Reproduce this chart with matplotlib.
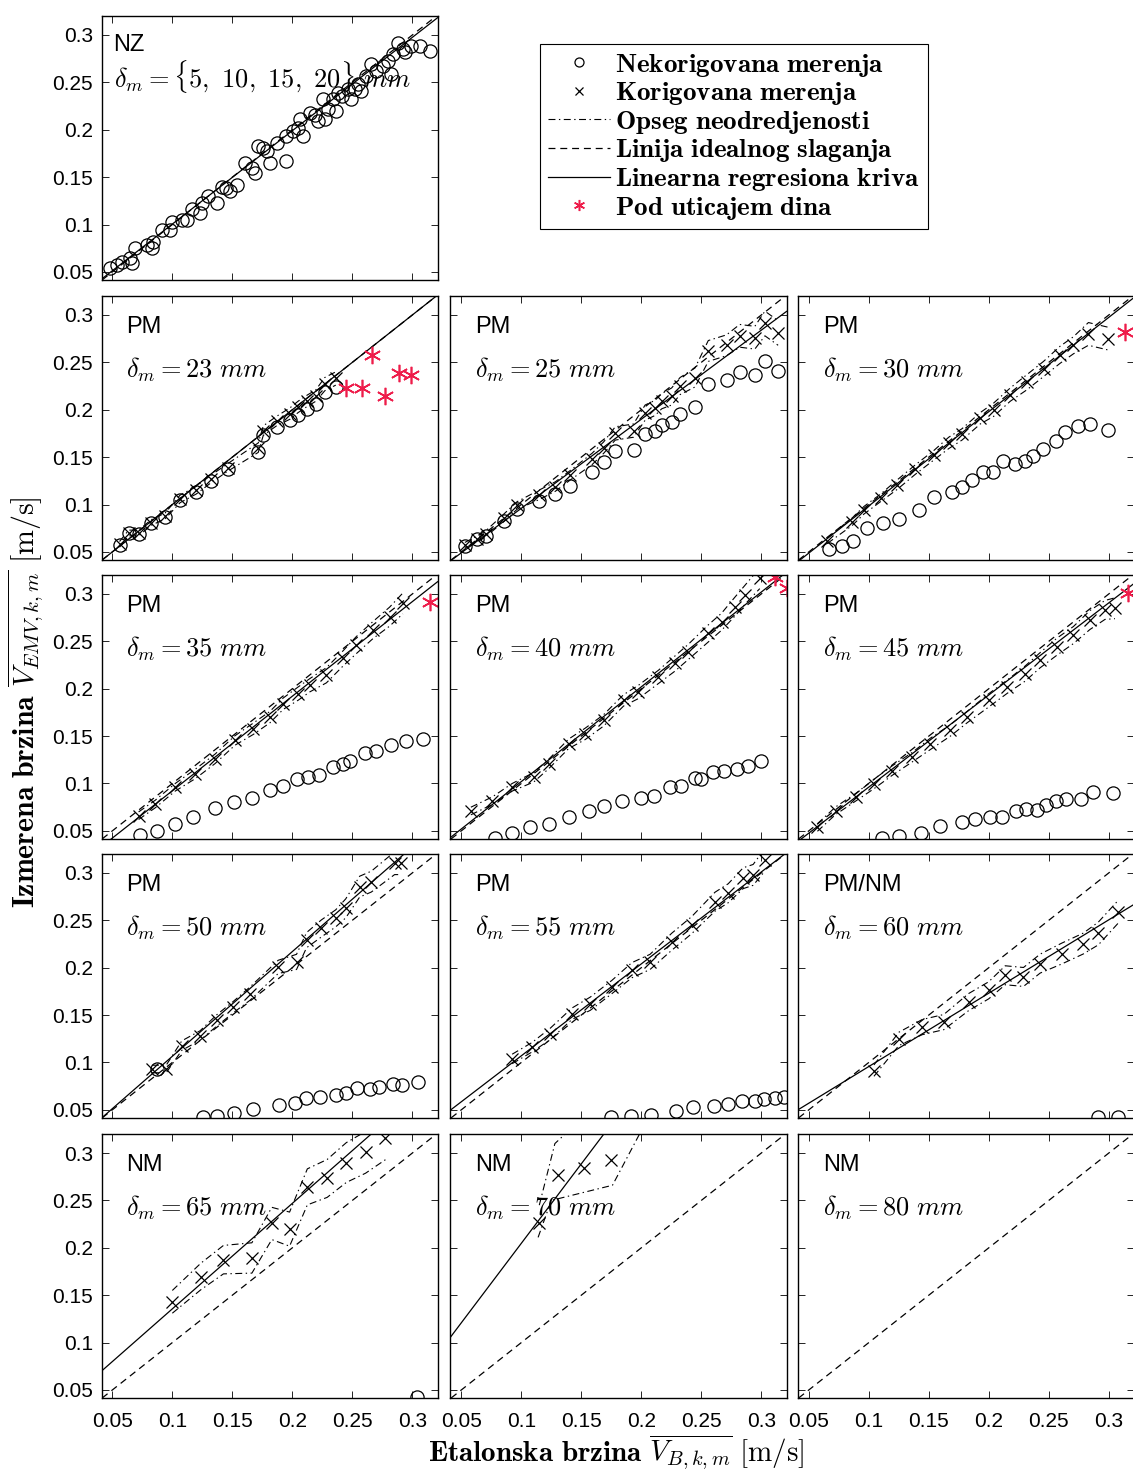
import numpy as np
import matplotlib
matplotlib.use("Agg")
import matplotlib.pyplot as plt
from matplotlib.lines import Line2D
from matplotlib.ticker import FuncFormatter

plt.rcParams["font.family"] = ["Liberation Sans", "DejaVu Sans"]
plt.rcParams["mathtext.fontset"] = "cm"
plt.rcParams["lines.scale_dashes"] = False

XLIM = (0.041, 0.321)
YLIM = (0.0415, 0.320)
TICKS = [0.05, 0.1, 0.15, 0.2, 0.25, 0.3]
DINA = "#ee1c4a"
DASH = (5, 3.5)
DASHDOT = (5, 2.5, 1, 2.5)

# NZ, delta = 5..20 mm (only uncorrected points)
nz_x = [0.048, 0.054, 0.058, 0.065, 0.066, 0.069, 0.079, 0.083, 0.084, 0.091, 0.0996, 0.098,
        0.108, 0.112, 0.116, 0.1245, 0.123, 0.130, 0.137, 0.141, 0.145, 0.148, 0.1536, 0.1605,
        0.166, 0.169, 0.1716, 0.1758, 0.181, 0.1785, 0.187, 0.195, 0.195, 0.2007, 0.205, 0.209,
        0.206, 0.2145, 0.2187, 0.2215, 0.227, 0.2298, 0.2256, 0.234, 0.2367, 0.238, 0.241,
        0.2464, 0.249, 0.252, 0.2547, 0.2575, 0.2616, 0.2658, 0.270, 0.2755, 0.2796, 0.2824,
        0.2838, 0.288, 0.292, 0.2935, 0.299, 0.306, 0.3143]
nz_y = [0.054, 0.0575, 0.061, 0.0645, 0.0593, 0.075, 0.0787, 0.075, 0.082, 0.0946, 0.103, 0.0946,
        0.105, 0.105, 0.116, 0.1228, 0.112, 0.130, 0.123, 0.140, 0.139, 0.135, 0.142, 0.165,
        0.160, 0.1546, 0.1828, 0.181, 0.165, 0.1775, 0.186, 0.193, 0.167, 0.1987, 0.202, 0.193,
        0.211, 0.218, 0.216, 0.209, 0.211, 0.2216, 0.232, 0.232, 0.2199, 0.239, 0.2358,
        0.2428, 0.232, 0.243, 0.248, 0.241, 0.257, 0.269, 0.262, 0.2675, 0.273, 0.259,
        0.280, 0.292, 0.285, 0.2816, 0.2887, 0.2887, 0.2834]

# PM, 23 mm
p23_xo = [0.056, 0.0636, 0.0719, 0.0824, 0.094, 0.1065, 0.1198, 0.1323, 0.146, 0.1716, 0.1758,
          0.1868, 0.198, 0.2048, 0.2118, 0.2196, 0.227, 0.2362]
p23_yo = [0.0575, 0.0695, 0.0688, 0.0804, 0.0864, 0.105, 0.1136, 0.125, 0.137, 0.155, 0.173,
          0.182, 0.189, 0.194, 0.201, 0.2065, 0.219, 0.224]
p23_yc = [0.058, 0.070, 0.070, 0.081, 0.088, 0.106, 0.115, 0.127, 0.139, 0.160, 0.178, 0.188,
          0.196, 0.203, 0.209, 0.215, 0.227, 0.233]
p23_u = [0.003, 0.003, 0.003, 0.003, 0.003, 0.004, 0.004, 0.004, 0.004, 0.005, 0.005, 0.005,
         0.006, 0.006, 0.006, 0.006, 0.007, 0.007]
p23_xd = [0.245, 0.258, 0.2665, 0.2776, 0.2887, 0.299]
p23_yd = [0.2234, 0.2234, 0.2576, 0.2142, 0.239, 0.2365]

# PM, 25 mm
p25_xo = [0.053, 0.0633, 0.0702, 0.0855, 0.0965, 0.1145, 0.1284, 0.1409, 0.1589, 0.1686, 0.1783,
          0.1935, 0.2032, 0.2115, 0.217, 0.2253, 0.2323, 0.2447, 0.2558, 0.271, 0.282, 0.2946,
          0.303, 0.314]
p25_yo = [0.0564, 0.0635, 0.067, 0.083, 0.095, 0.104, 0.111, 0.120, 0.134, 0.1447, 0.157,
          0.1578, 0.1747, 0.178, 0.1835, 0.187, 0.196, 0.203, 0.2276, 0.2319, 0.240, 0.2365,
          0.2516, 0.241]
p25_yc = [0.057, 0.064, 0.069, 0.086, 0.099, 0.110, 0.119, 0.131, 0.148, 0.160, 0.175, 0.178,
          0.197, 0.202, 0.209, 0.214, 0.225, 0.234, 0.262, 0.268, 0.278, 0.276, 0.291, 0.281]
p25_u = [0.003, 0.003, 0.003, 0.004, 0.004, 0.005, 0.005, 0.005, 0.006, 0.006, 0.007, 0.007,
         0.008, 0.008, 0.008, 0.009, 0.009, 0.010, 0.011, 0.011, 0.012, 0.012, 0.013, 0.013]

# PM, 30 mm
p30_xo = [0.0669, 0.078, 0.0871, 0.0982, 0.112, 0.1251, 0.1417, 0.1542, 0.1694, 0.1777, 0.186,
          0.1951, 0.2035, 0.2118, 0.2215, 0.2298, 0.2367, 0.245, 0.2561, 0.2636, 0.2747,
          0.2843, 0.2996]
p30_yo = [0.0529, 0.0564, 0.0617, 0.0751, 0.080, 0.0847, 0.0942, 0.1076, 0.1129, 0.1182, 0.126,
          0.134, 0.134, 0.1464, 0.1429, 0.1457, 0.1507, 0.1588, 0.1669, 0.1765, 0.1824,
          0.1846, 0.1789]
p30_xc = [0.0655, 0.0863, 0.096, 0.1098, 0.1237, 0.1389, 0.1542, 0.1666, 0.1777, 0.1929, 0.204,
          0.2179, 0.2317, 0.2456, 0.2594, 0.2705, 0.283, 0.2996]
p30_yc = [0.062, 0.082, 0.094, 0.107, 0.121, 0.137, 0.152, 0.165, 0.174, 0.191, 0.200, 0.216,
          0.229, 0.243, 0.258, 0.268, 0.280, 0.275]
p30_u = [0.003, 0.004, 0.004, 0.004, 0.005, 0.005, 0.005, 0.006, 0.006, 0.006, 0.007, 0.007,
         0.008, 0.008, 0.009, 0.009, 0.012, 0.012]
p30_xd = [0.3134]
p30_yd = [0.2823]

# PM, 35 mm
p35_xo = [0.0727, 0.0871, 0.1024, 0.1176, 0.1356, 0.1514, 0.1666, 0.1813, 0.1924, 0.2035,
          0.2132, 0.2223, 0.2339, 0.2422, 0.2478, 0.2602, 0.270, 0.2824, 0.2949, 0.3087]
p35_yo = [0.0455, 0.050, 0.0571, 0.0642, 0.0741, 0.0801, 0.0847, 0.0931, 0.0977, 0.1048,
          0.1066, 0.1094, 0.1171, 0.1207, 0.1242, 0.132, 0.1348, 0.1401, 0.1447, 0.1471]
p35_xc = [0.0719, 0.0857, 0.1024, 0.119, 0.1356, 0.1522, 0.1674, 0.1813, 0.1924, 0.2048, 0.2145,
          0.2284, 0.2422, 0.2533, 0.2672, 0.281, 0.2921]
p35_yc = [0.066, 0.0783, 0.096, 0.110, 0.126, 0.1454, 0.1577, 0.170, 0.1842, 0.1948, 0.2036,
          0.2142, 0.2319, 0.246, 0.2619, 0.276, 0.290]
p35_u = [0.004, 0.004, 0.004, 0.005, 0.005, 0.005, 0.006, 0.006, 0.006, 0.007, 0.007, 0.008,
         0.008, 0.009, 0.009, 0.010, 0.011]
p35_xd = [0.3143]
p35_yd = [0.292]

# PM, 40 mm
p40_xo = [0.078, 0.0924, 0.1076, 0.1229, 0.1395, 0.1561, 0.1686, 0.1838, 0.1999, 0.2109, 0.224,
          0.2331, 0.2447, 0.2497, 0.260, 0.2691, 0.2794, 0.2885, 0.2996]
p40_yo = [0.043, 0.0483, 0.0536, 0.0571, 0.0642, 0.0713, 0.0765, 0.0818, 0.0843, 0.0871, 0.0967,
          0.0977, 0.1059, 0.1048, 0.1119, 0.1136, 0.1154, 0.1189, 0.1235]
p40_xc = [0.058, 0.0758, 0.0924, 0.1104, 0.1229, 0.1395, 0.1533, 0.1686, 0.1852, 0.1976, 0.2143,
          0.2281, 0.2392, 0.2558, 0.2669, 0.278, 0.2863, 0.2987]
p40_yc = [0.071, 0.0818, 0.096, 0.1066, 0.1207, 0.1419, 0.1524, 0.1666, 0.1877, 0.1966, 0.2125,
          0.2266, 0.2389, 0.2583, 0.2707, 0.2866, 0.299, 0.3166]
p40_u = [0.004, 0.004, 0.004, 0.005, 0.005, 0.005, 0.006, 0.006, 0.006, 0.007, 0.007, 0.008,
         0.008, 0.009, 0.009, 0.010, 0.010, 0.011]
p40_xd = [0.311, 0.321]
p40_yd = [0.318, 0.306]

# PM, 45 mm
p45_xo = [0.1112, 0.1251, 0.1431, 0.1591, 0.1777, 0.1888, 0.2012, 0.2109, 0.2228, 0.2312, 0.240,
          0.2478, 0.2561, 0.2644, 0.2769, 0.2871, 0.3037]
p45_yo = [0.043, 0.0448, 0.0483, 0.0554, 0.0589, 0.0624, 0.0642, 0.0649, 0.0705, 0.073, 0.072,
          0.0776, 0.0811, 0.0836, 0.0836, 0.0907, 0.0896]
p45_xc = [0.0572, 0.0724, 0.089, 0.1043, 0.1195, 0.1361, 0.1514, 0.168, 0.1819, 0.1999, 0.2151,
          0.2303, 0.2428, 0.2566, 0.2705, 0.2843, 0.2968, 0.3051]
p45_yc = [0.0536, 0.0713, 0.0854, 0.0995, 0.1136, 0.1277, 0.1419, 0.156, 0.170, 0.1877, 0.2019,
          0.216, 0.2301, 0.2442, 0.2566, 0.2725, 0.2831, 0.2849]
p45_u = [0.004, 0.004, 0.004, 0.005, 0.005, 0.005, 0.006, 0.006, 0.006, 0.007, 0.007, 0.008,
         0.008, 0.009, 0.009, 0.010, 0.010, 0.011]
p45_xd = [0.3162]
p45_yd = [0.3007]

# PM, 50 mm
p50_xo = [0.0871, 0.1253, 0.137, 0.1514, 0.1674, 0.1891, 0.2021, 0.2112, 0.2228, 0.2361, 0.2445,
          0.2541, 0.2644, 0.2722, 0.2838, 0.2915, 0.3046]
p50_yo = [0.0931, 0.042, 0.0437, 0.0462, 0.0508, 0.0554, 0.0568, 0.0624, 0.0631, 0.066, 0.0677,
          0.073, 0.0723, 0.0737, 0.0773, 0.0766, 0.079]
p50_xc = [0.083, 0.0949, 0.1079, 0.1231, 0.137, 0.1508, 0.1647, 0.1882, 0.2035, 0.2118, 0.2242,
          0.2361, 0.2445, 0.2561, 0.2658, 0.2852, 0.2907]
p50_yc = [0.0931, 0.0931, 0.1178, 0.1284, 0.1443, 0.1584, 0.1726, 0.2008, 0.2061, 0.229, 0.2414,
          0.252, 0.2626, 0.2855, 0.2908, 0.3102, 0.3102]
p50_u = [0.004, 0.004, 0.005, 0.005, 0.006, 0.006, 0.007, 0.007, 0.008, 0.008, 0.009, 0.009,
         0.010, 0.011, 0.011, 0.012, 0.012]

# PM, 55 mm
p55_xo = [0.1749, 0.1915, 0.2082, 0.2289, 0.2433, 0.2608, 0.2719, 0.2841, 0.2946, 0.3023,
          0.3112, 0.319]
p55_yo = [0.042, 0.0437, 0.0448, 0.0483, 0.0525, 0.0543, 0.0561, 0.0589, 0.0589, 0.0614,
          0.0624, 0.0638]
p55_xc = [0.0924, 0.109, 0.1242, 0.1422, 0.1575, 0.1755, 0.1921, 0.2073, 0.2253, 0.242, 0.2614,
          0.2724, 0.2849, 0.2932, 0.3029]
p55_yc = [0.1037, 0.1161, 0.1302, 0.1514, 0.162, 0.1796, 0.1973, 0.2061, 0.2273, 0.2449, 0.2696,
          0.2785, 0.2944, 0.2979, 0.3138]
p55_u = [0.005, 0.005, 0.006, 0.006, 0.007, 0.007, 0.008, 0.008, 0.009, 0.009, 0.010, 0.010,
         0.011, 0.011, 0.012]

# PM/NM, 60 mm
p60_xo = [0.2913, 0.3079]
p60_yo = [0.042, 0.0427]
p60_xc = [0.1043, 0.1251, 0.1445, 0.1625, 0.1832, 0.1999, 0.2137, 0.2289, 0.2428, 0.2608, 0.2788,
          0.2913, 0.3079]
p60_yc = [0.0914, 0.1249, 0.1373, 0.1426, 0.1637, 0.1761, 0.192, 0.1902, 0.2043, 0.2149, 0.2255,
          0.2361, 0.2591]
p60_u = [0.006, 0.007, 0.008, 0.008, 0.009, 0.009, 0.010, 0.010, 0.010, 0.011, 0.011, 0.012,
         0.012]

# NM, 65 mm
p65_xo = [0.304]
p65_yo = [0.043]
p65_xc = [0.100, 0.1237, 0.1426, 0.1663, 0.1829, 0.1977, 0.2125, 0.229, 0.245, 0.261, 0.2776]
p65_yc = [0.143, 0.1697, 0.1875, 0.1893, 0.2257, 0.2197, 0.2643, 0.2732, 0.290, 0.3007, 0.316]
p65_u = [0.012, 0.014, 0.015, 0.016, 0.017, 0.018, 0.019, 0.020, 0.021, 0.022, 0.023]

# NM, 70 mm (band drawn from its own upper/lower curves)
p70_xc = [0.115, 0.131, 0.152, 0.175]
p70_yc = [0.226, 0.277, 0.284, 0.293]
p70_hi_x = [0.115, 0.128, 0.145, 0.160]
p70_hi_y = [0.245, 0.310, 0.330, 0.350]
p70_lo_x = [0.114, 0.125, 0.176, 0.201]
p70_lo_y = [0.211, 0.250, 0.266, 0.326]

# regression lines (slope, intercept)
reg_nz = (0.985, 0.002)
reg = {23: (1.0, 0.0), 25: (0.94, 0.002), 30: (0.995, -0.001), 35: (0.998, -0.0075),
       40: (1.0, 0.002), 45: (0.972, -0.001), 50: (1.105, -0.004), 55: (0.97, 0.010),
       60: (0.774, 0.0183), 65: (1.113, 0.0243), 70: (1.677, 0.037)}

fig = plt.figure(figsize=(11.33, 14.69), dpi=100)

col_left = [0.0896, 0.3976, 0.7043]
row_bottom = [0.8094, 0.6188, 0.4289, 0.2390, 0.0483]
w, h = 0.2966, 0.1797

fmt = FuncFormatter(lambda v, p: f"{v:g}")


def make_ax(r, c):
    ax = fig.add_axes([col_left[c], row_bottom[r], w, h])
    ax.set_xlim(XLIM)
    ax.set_ylim(YLIM)
    ax.set_xticks(TICKS)
    ax.set_yticks(TICKS)
    ax.xaxis.set_major_formatter(fmt)
    ax.yaxis.set_major_formatter(fmt)
    ax.tick_params(direction="in", top=True, right=True, length=5, width=0.6,
                   labelsize=15, labelbottom=(r == 4), labelleft=(c == 0))
    ax.tick_params(axis="x", pad=10)
    ax.tick_params(axis="y", pad=6)
    for s in ax.spines.values():
        s.set_linewidth(1.0)
    return ax


def base_lines(ax, slope, icpt):
    ax.axline((0, 0), slope=1, color="k", lw=0.9, ls=(0, DASH))
    if slope is not None:
        ax.axline((0, icpt), slope=slope, color="k", lw=0.9)


def band(ax, x, y):
    ax.plot(x, y, color="k", lw=0.8, ls=(0, DASHDOT))


def draw(ax, xo=None, yo=None, xc=None, yc=None, u=None, xd=None, yd=None):
    if xc is not None:
        if u is not None:
            yc_a, u_a = np.array(yc), np.array(u)
            band(ax, xc, yc_a + u_a)
            band(ax, xc, yc_a - u_a)
        ax.plot(xc, yc, ls="none", marker="x", ms=8, mew=0.9, color="k")
    if xo is not None:
        ax.plot(xo, yo, ls="none", marker="o", ms=9.5, mfc="none", mec="k", mew=0.9)
    if xd is not None:
        ax.plot(xd, yd, ls="none", marker=(6, 2, 0), ms=12.5, mew=1.2, color=DINA)


def label(ax, tag, delta, x0=0.074, y1=0.882, y2=0.72):
    ax.text(x0, y1, tag, transform=ax.transAxes, fontsize=17, va="center", ha="left", zorder=1)
    ax.text(x0, y2, delta, transform=ax.transAxes, fontsize=19, va="center", ha="left", zorder=1)


# row 1 : NZ
ax = make_ax(0, 0)
base_lines(ax, *reg_nz)
draw(ax, nz_x, nz_y)
label(ax, "NZ", r"$\delta_m = \{5,\ 10,\ 15,\ 20\}\ mm$", x0=0.036, y1=0.892, y2=0.772)

panels = [
    (1, 0, "PM", 23, dict(xo=p23_xo, yo=p23_yo, xc=p23_xo, yc=p23_yc, u=p23_u, xd=p23_xd, yd=p23_yd)),
    (1, 1, "PM", 25, dict(xo=p25_xo, yo=p25_yo, xc=p25_xo, yc=p25_yc, u=p25_u)),
    (1, 2, "PM", 30, dict(xo=p30_xo, yo=p30_yo, xc=p30_xc, yc=p30_yc, u=p30_u, xd=p30_xd, yd=p30_yd)),
    (2, 0, "PM", 35, dict(xo=p35_xo, yo=p35_yo, xc=p35_xc, yc=p35_yc, u=p35_u, xd=p35_xd, yd=p35_yd)),
    (2, 1, "PM", 40, dict(xo=p40_xo, yo=p40_yo, xc=p40_xc, yc=p40_yc, u=p40_u, xd=p40_xd, yd=p40_yd)),
    (2, 2, "PM", 45, dict(xo=p45_xo, yo=p45_yo, xc=p45_xc, yc=p45_yc, u=p45_u, xd=p45_xd, yd=p45_yd)),
    (3, 0, "PM", 50, dict(xo=p50_xo, yo=p50_yo, xc=p50_xc, yc=p50_yc, u=p50_u)),
    (3, 1, "PM", 55, dict(xo=p55_xo, yo=p55_yo, xc=p55_xc, yc=p55_yc, u=p55_u)),
    (3, 2, "PM/NM", 60, dict(xo=p60_xo, yo=p60_yo, xc=p60_xc, yc=p60_yc, u=p60_u)),
    (4, 0, "NM", 65, dict(xo=p65_xo, yo=p65_yo, xc=p65_xc, yc=p65_yc, u=p65_u)),
    (4, 1, "NM", 70, dict(xc=p70_xc, yc=p70_yc)),
    (4, 2, "NM", 80, dict()),
]

for r, c, tag, d, kw in panels:
    ax = make_ax(r, c)
    s, b = reg.get(d, (None, None))
    base_lines(ax, s, b)
    if d == 70:
        band(ax, p70_hi_x, p70_hi_y)
        band(ax, p70_lo_x, p70_lo_y)
    draw(ax, **kw)
    label(ax, tag, r"$\delta_m = %d\ mm$" % d)

# legend
handles = [
    Line2D([], [], ls="none", marker="o", ms=6.5, mfc="none", mec="k", mew=0.9),
    Line2D([], [], ls="none", marker="x", ms=5.5, mew=0.9, color="k"),
    Line2D([], [], color="k", lw=0.8, ls=(0, DASHDOT)),
    Line2D([], [], color="k", lw=0.9, ls=(0, DASH)),
    Line2D([], [], color="k", lw=0.9),
    Line2D([], [], ls="none", marker=(6, 2, 0), ms=8, mew=1.1, color=DINA),
]
labels = [r"$\mathbf{Nekorigovana\ merenja}$", r"$\mathbf{Korigovana\ merenja}$",
          r"$\mathbf{Opseg\ neodredjenosti}$", r"$\mathbf{Linija\ idealnog\ slaganja}$",
          r"$\mathbf{Linearna\ regresiona\ kriva}$", r"$\mathbf{Pod\ uticajem\ dina}$"]
leg = fig.legend(handles, labels, loc="upper left", bbox_to_anchor=(540 / 1133, 1 - 44 / 1469),
                 fontsize=19.5, frameon=True, fancybox=False, edgecolor="k", framealpha=1,
                 handlelength=2.3, handletextpad=0.2, labelspacing=0.06, borderpad=0.28,
                 borderaxespad=0, numpoints=1)
leg.get_frame().set_linewidth(0.8)

fig.text(0.023, 0.522, r"$\mathbf{Izmerena\ brzina}\ \overline{V_{EMV,k,m}}\ \mathrm{[m/s]}$",
         rotation=90, ha="center", va="center", fontsize=21.5)
fig.text(0.544, 0.0115, r"$\mathbf{Etalonska\ brzina}\ \overline{V_{B,k,m}}\ \mathrm{[m/s]}$",
         ha="center", va="center", fontsize=21)

fig.savefig("out.png", dpi=100)
